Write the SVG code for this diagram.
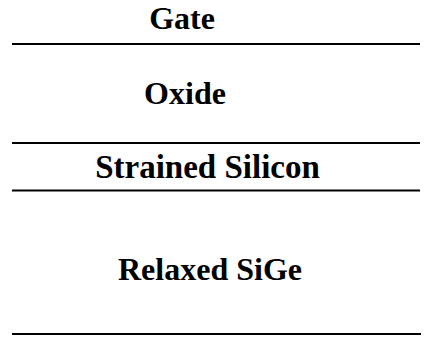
<svg xmlns="http://www.w3.org/2000/svg" width="439" height="339" viewBox="0 0 439 339">
<style>
.lbl{font-family:"Liberation Serif","Times New Roman",serif;font-weight:bold;font-size:32px;fill:#000;text-anchor:middle}
.ln{stroke:#000;stroke-width:2;fill:none}
</style>
<rect width="439" height="339" fill="#fff"/>
<g id="connectors">
<line class="ln" x1="12" y1="44" x2="420" y2="44"/>
<line class="ln" x1="12" y1="143" x2="420" y2="143"/>
<line class="ln" x1="12" y1="190.5" x2="420" y2="190.5"/>
<line class="ln" x1="12" y1="334" x2="421" y2="334"/>
</g>
<g id="gate"><text class="lbl" x="182" y="29">Gate</text></g>
<g id="oxide"><text class="lbl" x="185" y="104">Oxide</text></g>
<g id="strained"><text class="lbl" x="207.5" y="178" style="font-size:33px">Strained Silicon</text></g>
<g id="sige"><text class="lbl" x="210" y="280">Relaxed SiGe</text></g>
</svg>
